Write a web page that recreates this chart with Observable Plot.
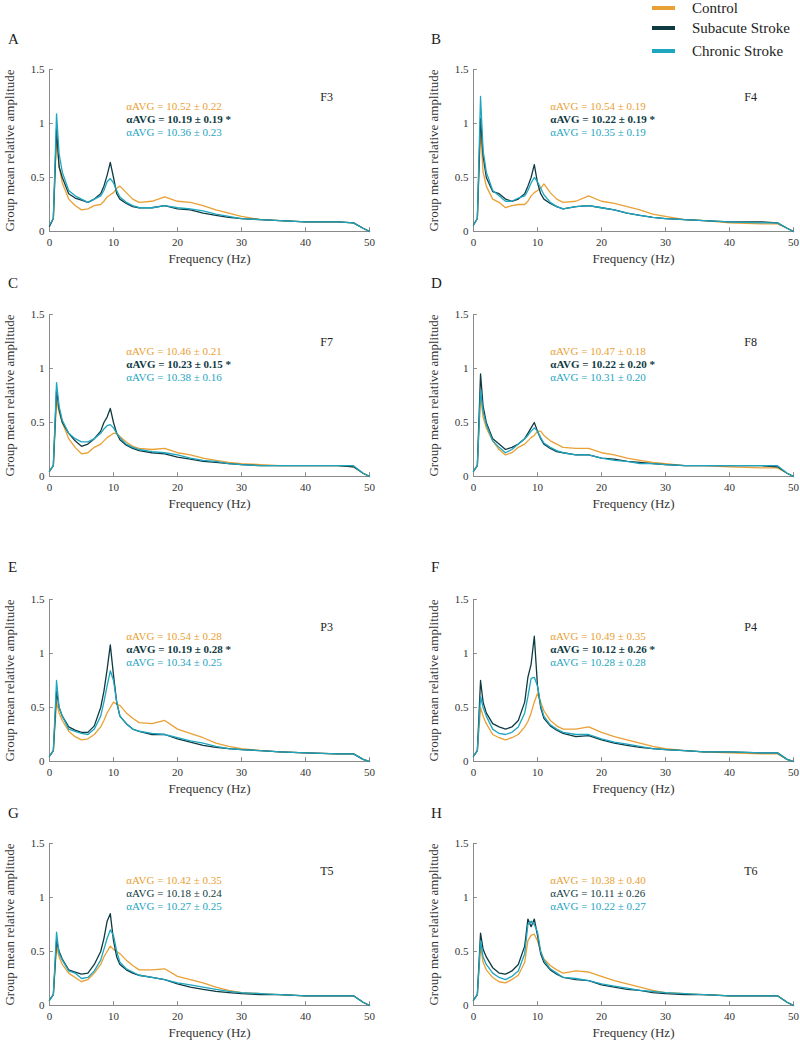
<!DOCTYPE html>
<html><head><meta charset="utf-8">
<script src="https://cdn.jsdelivr.net/npm/d3@7"></script>
<script src="https://cdn.jsdelivr.net/npm/@observablehq/plot@0.6"></script>
<style>
body{margin:0;background:#fff;}
#root{position:relative;width:800px;height:1046px;overflow:hidden;font-family:"Liberation Serif","Times New Roman",serif;}
.panel{position:absolute;}
.panel svg text{font-family:"Liberation Serif","Times New Roman",serif !important;}
.letter{position:absolute;font-size:15px;line-height:18px;color:#222;}
.sw{position:absolute;width:23px;height:4px;}
.lt{position:absolute;font-size:15px;line-height:18px;color:#222;white-space:nowrap;}
</style></head><body><div id="root"></div>
<script>
// ---------- data ----------
const groups = ["Control", "Subacute Stroke", "Chronic Stroke"];
const colors = ["#E9A035", "#0F3A42", "#1EA5BF"];
const electrodes = ["F3", "F4", "F7", "F8", "P3", "P4", "T5", "T6"];
const panelLetters = ["A", "B", "C", "D", "E", "F", "G", "H"];
const xTicks = [0, 10, 20, 30, 40, 50];
const yTicks = [0, 0.5, 1, 1.5];
const xLabel = "Frequency (Hz)";
const yLabel = "Group mean relative amplitude";

const freq = [0, 0.6, 1.1, 1.5, 2, 3, 4, 5, 6, 7, 8, 8.5, 9, 9.5, 10, 10.5, 11, 12, 13, 14, 16, 18, 20, 22, 24, 26, 28, 30, 33, 36, 40, 45, 47.5, 49, 50];

const F3_control  = [0.05,0.12,0.88,0.6,0.45,0.3,0.24,0.2,0.21,0.24,0.25,0.28,0.32,0.34,0.36,0.4,0.42,0.36,0.3,0.27,0.28,0.32,0.28,0.27,0.24,0.2,0.17,0.14,0.11,0.1,0.09,0.09,0.08,0.03,0];
const F3_subacute = [0.05,0.12,0.95,0.6,0.5,0.35,0.31,0.29,0.27,0.3,0.35,0.42,0.52,0.64,0.5,0.35,0.3,0.26,0.23,0.22,0.22,0.24,0.21,0.2,0.17,0.15,0.13,0.12,0.11,0.1,0.09,0.09,0.08,0.03,0];
const F3_chronic  = [0.06,0.12,1.09,0.72,0.55,0.38,0.33,0.3,0.27,0.3,0.33,0.38,0.46,0.49,0.45,0.38,0.32,0.27,0.24,0.22,0.22,0.24,0.22,0.21,0.19,0.16,0.14,0.12,0.11,0.1,0.09,0.09,0.08,0.03,0];

const F4_control  = [0.06,0.12,0.95,0.55,0.42,0.3,0.27,0.22,0.24,0.25,0.25,0.28,0.33,0.36,0.38,0.4,0.44,0.36,0.3,0.27,0.28,0.33,0.28,0.26,0.23,0.2,0.16,0.14,0.11,0.1,0.08,0.07,0.07,0.03,0];
const F4_subacute = [0.06,0.12,1.05,0.7,0.5,0.37,0.35,0.3,0.28,0.3,0.35,0.42,0.5,0.62,0.45,0.35,0.3,0.26,0.23,0.21,0.23,0.24,0.22,0.2,0.17,0.15,0.13,0.12,0.11,0.1,0.09,0.09,0.08,0.03,0];
const F4_chronic  = [0.06,0.12,1.25,0.75,0.55,0.38,0.33,0.28,0.28,0.31,0.33,0.38,0.45,0.5,0.46,0.4,0.34,0.27,0.23,0.21,0.23,0.24,0.22,0.2,0.17,0.15,0.13,0.12,0.11,0.1,0.09,0.08,0.08,0.03,0];

const F7_control  = [0.05,0.1,0.7,0.6,0.5,0.35,0.27,0.21,0.22,0.27,0.3,0.33,0.36,0.38,0.4,0.4,0.37,0.32,0.28,0.26,0.25,0.26,0.22,0.2,0.17,0.15,0.13,0.12,0.11,0.1,0.1,0.1,0.09,0.03,0];
const F7_subacute = [0.05,0.1,0.8,0.62,0.5,0.4,0.33,0.28,0.3,0.35,0.42,0.5,0.55,0.63,0.5,0.4,0.34,0.29,0.26,0.24,0.22,0.21,0.18,0.16,0.14,0.13,0.12,0.11,0.1,0.1,0.1,0.1,0.09,0.03,0];
const F7_chronic  = [0.05,0.1,0.87,0.65,0.52,0.4,0.35,0.32,0.32,0.35,0.4,0.44,0.47,0.48,0.45,0.4,0.36,0.3,0.27,0.25,0.23,0.22,0.2,0.17,0.15,0.14,0.12,0.11,0.1,0.1,0.1,0.1,0.1,0.03,0];

const F8_control  = [0.05,0.1,0.75,0.55,0.45,0.33,0.25,0.2,0.22,0.27,0.3,0.33,0.36,0.38,0.42,0.42,0.38,0.33,0.3,0.27,0.26,0.26,0.22,0.2,0.17,0.15,0.13,0.12,0.1,0.1,0.09,0.08,0.08,0.03,0];
const F8_subacute = [0.05,0.1,0.95,0.65,0.5,0.35,0.3,0.25,0.27,0.3,0.35,0.4,0.45,0.5,0.42,0.35,0.3,0.26,0.23,0.22,0.2,0.2,0.17,0.16,0.14,0.13,0.12,0.11,0.1,0.1,0.1,0.1,0.09,0.03,0];
const F8_chronic  = [0.05,0.1,0.8,0.6,0.48,0.33,0.27,0.22,0.25,0.3,0.35,0.38,0.42,0.45,0.42,0.36,0.31,0.27,0.24,0.22,0.2,0.2,0.17,0.15,0.14,0.12,0.12,0.11,0.1,0.1,0.1,0.1,0.1,0.03,0];

const P3_control  = [0.05,0.1,0.55,0.45,0.38,0.28,0.23,0.2,0.21,0.25,0.32,0.38,0.45,0.5,0.55,0.53,0.52,0.45,0.4,0.36,0.35,0.38,0.3,0.26,0.22,0.17,0.14,0.12,0.1,0.09,0.08,0.07,0.07,0.02,0];
const P3_subacute = [0.05,0.1,0.65,0.5,0.42,0.32,0.29,0.27,0.27,0.33,0.5,0.65,0.85,1.08,0.8,0.55,0.42,0.35,0.3,0.28,0.25,0.25,0.21,0.18,0.15,0.13,0.12,0.11,0.1,0.09,0.08,0.07,0.07,0.02,0];
const P3_chronic  = [0.05,0.1,0.75,0.5,0.42,0.3,0.28,0.26,0.25,0.3,0.42,0.55,0.7,0.84,0.75,0.55,0.42,0.35,0.3,0.28,0.26,0.25,0.22,0.19,0.17,0.14,0.12,0.11,0.1,0.09,0.08,0.07,0.07,0.02,0];

const P4_control  = [0.05,0.1,0.5,0.42,0.35,0.25,0.22,0.2,0.22,0.25,0.32,0.37,0.45,0.55,0.63,0.55,0.47,0.38,0.33,0.3,0.3,0.32,0.27,0.23,0.2,0.17,0.14,0.12,0.1,0.09,0.08,0.07,0.07,0.02,0];
const P4_subacute = [0.05,0.1,0.75,0.55,0.45,0.35,0.32,0.3,0.32,0.38,0.55,0.78,0.9,1.16,0.7,0.5,0.4,0.33,0.29,0.26,0.23,0.24,0.2,0.17,0.15,0.13,0.12,0.11,0.1,0.09,0.09,0.08,0.08,0.02,0];
const P4_chronic  = [0.05,0.1,0.6,0.5,0.42,0.3,0.26,0.25,0.27,0.32,0.45,0.6,0.77,0.78,0.7,0.52,0.42,0.34,0.3,0.27,0.25,0.25,0.21,0.18,0.16,0.14,0.12,0.11,0.1,0.09,0.09,0.08,0.08,0.02,0];

const T5_control  = [0.05,0.1,0.55,0.45,0.38,0.3,0.26,0.22,0.24,0.3,0.38,0.45,0.5,0.55,0.52,0.5,0.48,0.42,0.37,0.33,0.33,0.34,0.27,0.24,0.21,0.17,0.14,0.12,0.11,0.1,0.09,0.09,0.09,0.03,0];
const T5_subacute = [0.05,0.1,0.6,0.5,0.43,0.33,0.31,0.29,0.3,0.38,0.5,0.62,0.78,0.85,0.6,0.45,0.38,0.33,0.3,0.28,0.26,0.24,0.2,0.17,0.15,0.13,0.12,0.11,0.1,0.1,0.09,0.09,0.09,0.03,0];
const T5_chronic  = [0.05,0.1,0.68,0.48,0.42,0.32,0.3,0.25,0.26,0.32,0.42,0.52,0.62,0.7,0.65,0.5,0.4,0.34,0.31,0.28,0.26,0.24,0.21,0.19,0.17,0.15,0.13,0.12,0.11,0.1,0.09,0.09,0.09,0.03,0];

const T6_control  = [0.05,0.1,0.55,0.4,0.33,0.26,0.22,0.21,0.24,0.28,0.4,0.6,0.65,0.66,0.6,0.5,0.43,0.37,0.33,0.3,0.32,0.31,0.27,0.23,0.2,0.17,0.14,0.12,0.11,0.1,0.09,0.09,0.09,0.03,0];
const T6_subacute = [0.05,0.1,0.67,0.52,0.45,0.35,0.3,0.29,0.32,0.38,0.55,0.8,0.73,0.8,0.65,0.48,0.4,0.33,0.29,0.26,0.24,0.23,0.19,0.17,0.15,0.14,0.12,0.11,0.1,0.1,0.09,0.09,0.09,0.03,0];
const T6_chronic  = [0.05,0.1,0.6,0.45,0.38,0.3,0.26,0.24,0.27,0.32,0.48,0.75,0.78,0.75,0.68,0.5,0.42,0.34,0.3,0.26,0.25,0.23,0.2,0.18,0.16,0.14,0.13,0.12,0.11,0.1,0.09,0.09,0.09,0.03,0];

const alphaControl  = ["10.52 ± 0.22","10.54 ± 0.19","10.46 ± 0.21","10.47 ± 0.18","10.54 ± 0.28","10.49 ± 0.35","10.42 ± 0.35","10.38 ± 0.40"];
const alphaSubacute = ["10.19 ± 0.19","10.22 ± 0.19","10.23 ± 0.15","10.22 ± 0.20","10.19 ± 0.28","10.12 ± 0.26","10.18 ± 0.24","10.11 ± 0.26"];
const alphaChronic  = ["10.36 ± 0.23","10.35 ± 0.19","10.38 ± 0.16","10.31 ± 0.20","10.34 ± 0.25","10.28 ± 0.28","10.27 ± 0.25","10.22 ± 0.27"];
const significant   = [true, true, true, true, true, true, false, false];

const seriesByPanel = [
  [F3_control, F3_subacute, F3_chronic],
  [F4_control, F4_subacute, F4_chronic],
  [F7_control, F7_subacute, F7_chronic],
  [F8_control, F8_subacute, F8_chronic],
  [P3_control, P3_subacute, P3_chronic],
  [P4_control, P4_subacute, P4_chronic],
  [T5_control, T5_subacute, T5_chronic],
  [T6_control, T6_subacute, T6_chronic]
];

// ---------- layout ----------
const root = document.getElementById("root");
const rowTop = [69, 314, 599, 843];   // pixel of y=1.5 line
const letterY = [39, 283, 567, 813];
const mTop = 12, plotH = 162, mBottom = 40;
const FONT = "Liberation Serif";
const axisColor = "#8a8a8a";

for (let i = 0; i < 8; i++) {
  const col = i % 2, row = Math.floor(i / 2);
  const data = [];
  groups.forEach((g, gi) => freq.forEach((f, k) => data.push({f, v: seriesByPanel[i][gi][k], g})));
  const annot = [
    {t: "αAVG = " + alphaControl[i], c: colors[0], bold: false, k: 0},
    {t: "αAVG = " + alphaSubacute[i] + (significant[i] ? " *" : ""), c: colors[1], bold: significant[i], k: 1},
    {t: "αAVG = " + alphaChronic[i], c: colors[2], bold: false, k: 2}
  ];
  const annotOpts = {x: 12, y: d => 1.16 - d.k * 0.123, text: "t", fill: d => d.c, textAnchor: "start", fontSize: 11};
  const chart = Plot.plot({
    width: 400,
    height: mTop + plotH + mBottom,
    marginTop: mTop, marginBottom: mBottom,
    marginLeft: col ? 73 : 49, marginRight: col ? 7 : 31,
    x: {domain: [0, 50]},
    y: {domain: [0, 1.5]},
    color: {domain: groups, range: colors},
    style: {fontFamily: FONT, fontSize: "11px", color: "#333", background: "transparent", overflow: "visible"},
    marks: [
      Plot.axisX({ticks: xTicks, tickSize: 0, tickPadding: 7, label: null, fontSize: 11}),
      Plot.axisY({ticks: yTicks, tickSize: 0, tickPadding: 5, label: null, fontSize: 11, tickFormat: d => String(d)}),
      Plot.ruleY([0], {x1: 0, x2: 50, stroke: axisColor}),
      Plot.ruleX([0], {y1: 0, y2: 1.5, stroke: axisColor}),
      Plot.ruleX(xTicks, {y1: 0, y2: 0.035, stroke: axisColor}),
      Plot.ruleY(yTicks, {x1: 0, x2: 0.6, stroke: axisColor}),
      Plot.line(data, {x: "f", y: "v", z: "g", stroke: "g", strokeWidth: 1.3}),
      Plot.text([xLabel], {frameAnchor: "bottom", dy: 31, text: d => d, fontSize: 13, fill: "#333"}),
      Plot.text([yLabel], {frameAnchor: "left", textAnchor: "middle", dx: -39.5, rotate: -90, text: d => d, fontSize: 13, fill: "#333"}),
      Plot.text(annot.filter(d => !d.bold), annotOpts),
      Plot.text(annot.filter(d => d.bold), {...annotOpts, fontWeight: "bold"}),
      Plot.text([electrodes[i]], {x: 42.3, y: 1.24, text: d => d, textAnchor: "start", fontSize: 12, fill: "#222"})
    ]
  });
  const wrap = document.createElement("div");
  wrap.className = "panel";
  wrap.style.left = (col * 400) + "px";
  wrap.style.top = (rowTop[row] - mTop) + "px";
  wrap.appendChild(chart);
  root.appendChild(wrap);

  const L = document.createElement("div");
  L.className = "letter";
  L.textContent = panelLetters[i];
  L.style.left = (col ? 431 : 8) + "px";
  L.style.top = (letterY[row] - 9) + "px";
  root.appendChild(L);
}

// legend
const legendY = [8, 28, 51];
groups.forEach((g, gi) => {
  const s = document.createElement("div");
  s.className = "sw";
  s.style.left = "652px";
  s.style.top = (legendY[gi] - 2) + "px";
  s.style.background = colors[gi];
  root.appendChild(s);
  const t = document.createElement("div");
  t.className = "lt";
  t.textContent = g;
  t.style.left = "692px";
  t.style.top = (legendY[gi] - 9) + "px";
  root.appendChild(t);
});
</script>
</body></html>
